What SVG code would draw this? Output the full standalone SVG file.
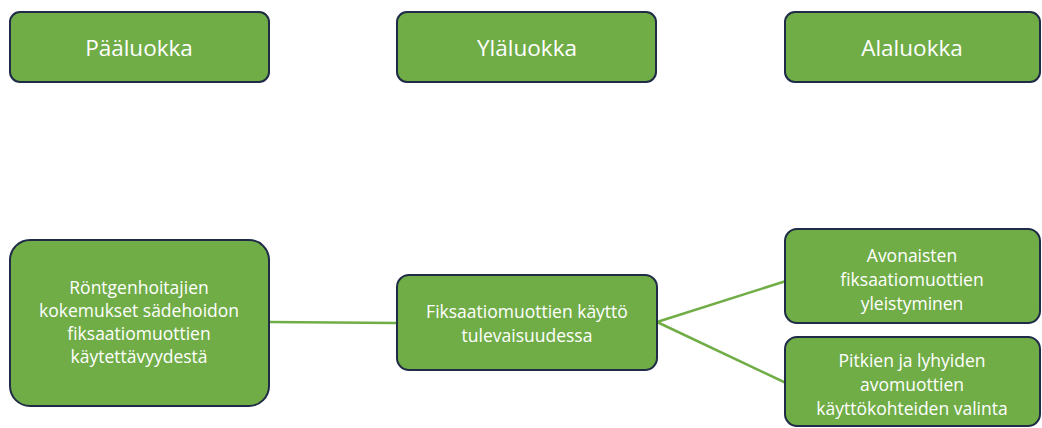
<svg xmlns="http://www.w3.org/2000/svg" width="1042" height="428" viewBox="0 0 1042 428">
<style>
.box{fill:#70AD47;stroke:#1F2B47;stroke-width:2}
.t{fill:#fff;font-family:"Open Sans","Liberation Sans",sans-serif;text-anchor:middle}
.h{font-size:22.5px}
.b{font-size:17.5px}
.c{stroke:#70AD47;stroke-width:2.5;fill:none}
</style>
<rect width="1042" height="428" fill="#fff"/>
<g id="connectors">
<line class="c" x1="269" y1="322" x2="397" y2="323"/>
<line class="c" x1="657" y1="322" x2="786" y2="281"/>
<line class="c" x1="657" y1="322" x2="786" y2="383"/>
</g>
<g id="n-paaluokka"><rect class="box" x="10" y="12" width="259" height="70" rx="10"/><text class="t h" x="139" y="56">Pääluokka</text></g>
<g id="n-ylaluokka"><rect class="box" x="397" y="12" width="259" height="70" rx="10"/><text class="t h" x="527" y="56">Yläluokka</text></g>
<g id="n-alaluokka"><rect class="box" x="785" y="12" width="255" height="70" rx="10"/><text class="t h" x="912" y="56">Alaluokka</text></g>
<g id="n-main"><rect class="box" x="10" y="240" width="259" height="166" rx="20"/>
<text class="t b" x="139" y="294">Röntgenhoitajien</text>
<text class="t b" x="139" y="317">kokemukset sädehoidon</text>
<text class="t b" x="139" y="340">fiksaatiomuottien</text>
<text class="t b" x="139" y="363">käytettävyydestä</text></g>
<g id="n-mid"><rect class="box" x="397" y="275" width="260" height="95" rx="12"/>
<text class="t b" x="527" y="318">Fiksaatiomuottien käyttö</text>
<text class="t b" x="527" y="342">tulevaisuudessa</text></g>
<g id="n-sub1"><rect class="box" x="785" y="229" width="255" height="94" rx="12"/>
<text class="t b" x="912" y="262">Avonaisten</text>
<text class="t b" x="912" y="286">fiksaatiomuottien</text>
<text class="t b" x="912" y="310">yleistyminen</text></g>
<g id="n-sub2"><rect class="box" x="785" y="337" width="255" height="89" rx="12"/>
<text class="t b" x="912" y="367">Pitkien ja lyhyiden</text>
<text class="t b" x="912" y="391">avomuottien</text>
<text class="t b" x="912" y="415">käyttökohteiden valinta</text></g>
</svg>
